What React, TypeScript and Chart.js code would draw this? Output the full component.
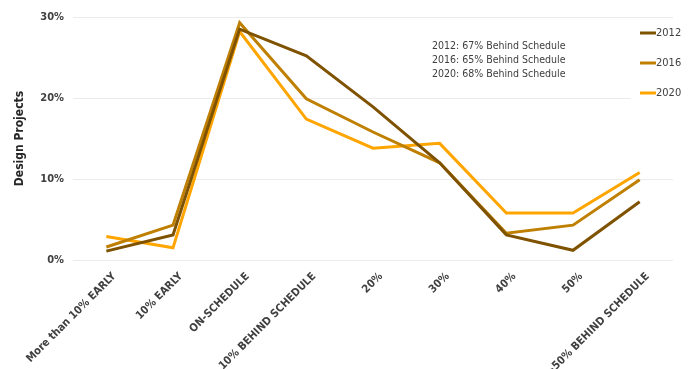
import React, { useEffect, useRef } from "react";
import { Chart, registerables } from "chart.js";

Chart.register(...registerables);

const categories = [
  "More than 10% EARLY",
  "10% EARLY",
  "ON-SCHEDULE",
  "10% BEHIND SCHEDULE",
  "20%",
  "30%",
  "40%",
  "50%",
  ">50% BEHIND SCHEDULE",
];

const series2012 = [1.1, 3.1, 28.5, 25.2, 18.9, 12.0, 3.1, 1.2, 7.2];
const series2016 = [1.6, 4.3, 29.3, 19.9, 15.8, 12.0, 3.3, 4.3, 9.9];
const series2020 = [2.9, 1.5, 28.2, 17.4, 13.8, 14.4, 5.8, 5.8, 10.8];

const seriesNames = ["2012", "2016", "2020"];
const seriesColors = ["#7F5200", "#BF7F00", "#FFA500"];

const annotationLines = [
  "2012: 67% Behind Schedule",
  "2016: 65% Behind Schedule",
  "2020: 68% Behind Schedule",
];

const yTicks = [0, 10, 20, 30];

const FONT = "'DejaVu Sans Condensed', 'DejaVu Sans', sans-serif";

const overlayPlugin = {
  id: "overlay",
  afterDraw(chart: any) {
    const ctx = chart.ctx;
    ctx.save();
    ctx.fillStyle = "#ffffff";
    ctx.fillRect(631, 24, 61, 82);
    ctx.font = `11px ${FONT}`;
    ctx.textBaseline = "middle";
    ctx.textAlign = "left";
    seriesNames.forEach((name, i) => {
      const y = 33 + i * 30;
      ctx.strokeStyle = seriesColors[i];
      ctx.lineWidth = 3;
      ctx.beginPath();
      ctx.moveTo(640, y);
      ctx.lineTo(656, y);
      ctx.stroke();
      ctx.fillStyle = "#404040";
      ctx.fillText(name, 656, y);
    });
    ctx.font = `10.5px ${FONT}`;
    ctx.fillStyle = "#404040";
    annotationLines.forEach((t, i) => {
      ctx.fillText(t, 432, 46 + i * 14);
    });
    ctx.restore();
  },
};

export default function App() {
  const ref = useRef<HTMLCanvasElement>(null);
  useEffect(() => {
    document.body.style.margin = "0";
    const data = [series2012, series2016, series2020];
    const chart = new Chart(ref.current!, {
      type: "line",
      data: {
        labels: categories,
        datasets: seriesNames.map((name, i) => ({
          label: name,
          data: data[i],
          borderColor: seriesColors[i],
          backgroundColor: seriesColors[i],
          borderWidth: 3,
          pointRadius: 0,
          tension: 0,
          fill: false,
        })),
      },
      options: {
        animation: false,
        responsive: false,
        maintainAspectRatio: false,
        layout: { padding: { top: 17, right: 19, left: 13, bottom: 0 } },
        plugins: {
          legend: { display: false },
          tooltip: { enabled: false },
        },
        scales: {
          x: {
            offset: true,
            grid: { display: false },
            border: { display: false },
            ticks: {
              maxRotation: 45,
              minRotation: 45,
              autoSkip: false,
              color: "#404040",
              font: { family: FONT, size: 11, weight: "bold" },
              padding: 2,
              labelOffset: 8,
            },
            afterFit(scale: any) {
              scale.height = 109;
            },
          },
          y: {
            min: 0,
            max: 30,
            afterBuildTicks(scale: any) {
              scale.ticks = yTicks.map((v) => ({ value: v }));
            },
            grid: { color: "#ebebeb", lineWidth: 1, drawTicks: false },
            border: { display: false },
            ticks: {
              color: "#404040",
              font: { family: FONT, size: 11, weight: "bold" },
              padding: 9,
              callback: (v: any) => `${v}%`,
            },
            title: {
              display: true,
              text: "Design Projects",
              color: "#262626",
              font: { family: FONT, size: 12, weight: "bold" },
              padding: 0,
            },
            afterFit(scale: any) {
              scale.width = 60;
            },
          },
        },
      },
      plugins: [overlayPlugin],
    });
    return () => chart.destroy();
  }, []);
  return (
    <div style={{ position: "absolute", left: 0, top: 0, width: 692, height: 369 }}>
      <canvas ref={ref} width={692} height={369} />
    </div>
  );
}
